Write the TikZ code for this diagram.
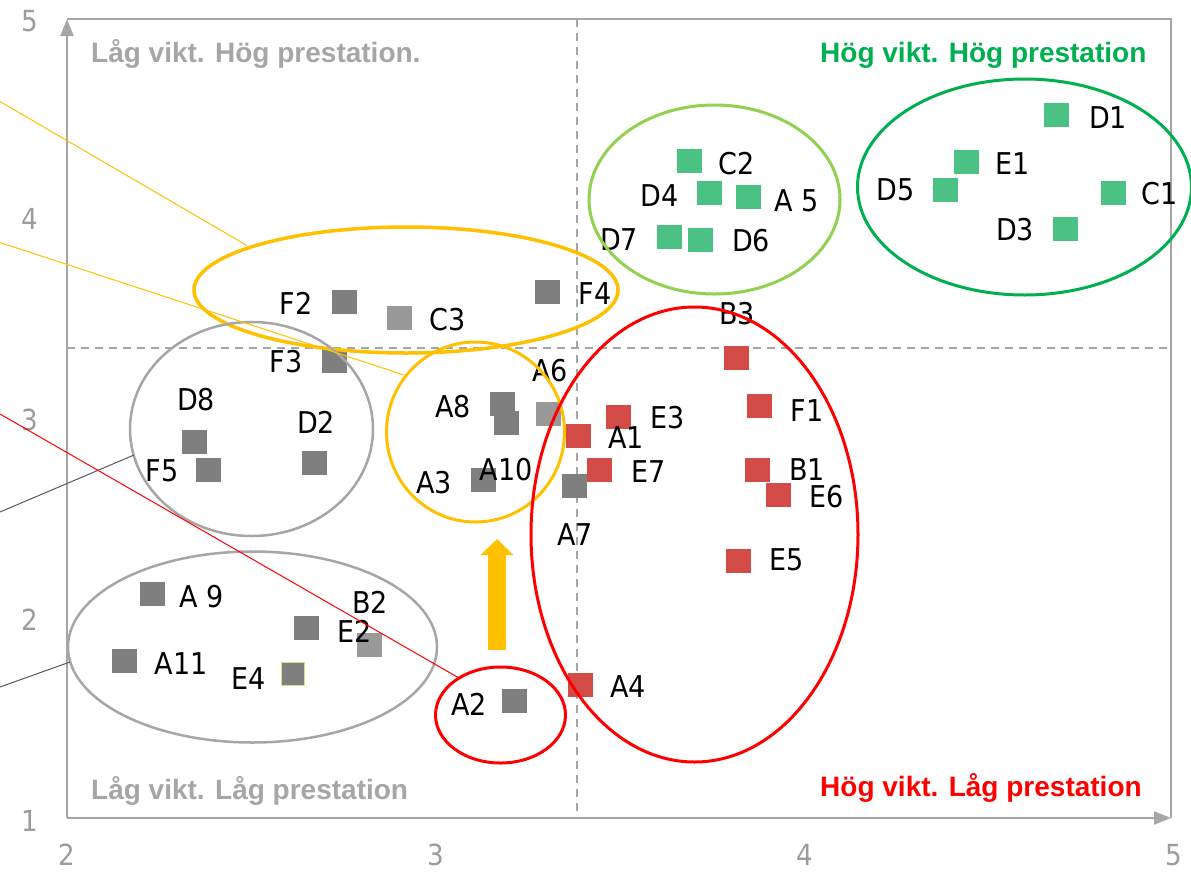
\documentclass[tikz,border=0pt]{standalone}
\usepackage{fontspec}
\usetikzlibrary{shapes.geometric,arrows.meta}
\newfontfamily\labfont[FakeStretch=0.9]{DejaVu Sans}
\newfontfamily\titfont{Liberation Sans}
\definecolor{axisgrey}{HTML}{A6A6A6}
\definecolor{tickgrey}{HTML}{9C9C9C}
\definecolor{ptgreen}{HTML}{4CC184}
\definecolor{ptdark}{HTML}{7F7F7F}
\definecolor{ptlight}{HTML}{999999}
\definecolor{ptred}{HTML}{D34B47}
\definecolor{dkgreen}{HTML}{00B050}
\definecolor{ltgreen}{HTML}{92D050}
\definecolor{amber}{HTML}{FFC000}
\definecolor{pured}{HTML}{FF0000}
\definecolor{thingrey}{HTML}{595959}
\definecolor{e4edge}{HTML}{D8E08C}
\begin{document}
\begin{tikzpicture}[x=1pt,y=-1pt,
  sq/.style={minimum width=25pt,minimum height=24pt,inner sep=0pt,draw=none},
  gsq/.style={sq,fill=ptgreen},
  dsq/.style={sq,fill=ptdark},
  lsq/.style={sq,fill=ptlight},
  rsq/.style={sq,fill=ptred},
  lab/.style={font=\labfont\fontsize{30}{30}\selectfont,inner sep=0pt,text=black},
  ticklab/.style={font=\labfont\fontsize{29}{29}\selectfont,inner sep=0pt,text=tickgrey},
  tit/.style={font=\titfont\bfseries\fontsize{28}{28}\selectfont,inner sep=0pt,anchor=base west},
  ell/.style={ellipse,draw,inner sep=0pt,outer sep=0pt},
  axisline/.style={draw=axisgrey,line width=2.2pt},
  guide/.style={draw=axisgrey,line width=1.3pt,dash pattern=on 8pt off 6pt},
  thin/.style={line width=1pt}
]
\useasboundingbox (0,0) rectangle (1191,873);
\fill[white] (0,0) rectangle (1191,873);

% frame and axes
\coordinate (O) at (67,818);
\coordinate (YT) at (67,19);
\coordinate (XR) at (1171,818);
\coordinate (TR) at (1171,19);
\draw[axisline] (YT) -- (TR) -- (XR);
\draw[axisline,-{Triangle[length=17pt,width=13pt]}] (O) -- (YT);
\draw[axisline,-{Triangle[length=17pt,width=13pt]}] (O) -- (XR);

% dashed guides
\coordinate (VT) at (577,19);
\coordinate (VB) at (577,818);
\coordinate (HL) at (67,348);
\coordinate (HR) at (1171,348);
\draw[guide] (VT) -- (VB);
\draw[guide] (HL) -- (HR);

% tick labels
\node[ticklab] (ty5) at (30,21) {5};
\node[ticklab] (ty4) at (30,219) {4};
\node[ticklab] (ty3) at (30,420) {3};
\node[ticklab] (ty2) at (30,620) {2};
\node[ticklab] (ty1) at (30,821) {1};
\node[ticklab] (tx2) at (66.5,855) {2};
\node[ticklab] (tx3) at (436,855) {3};
\node[ticklab] (tx4) at (805,855) {4};
\node[ticklab] (tx5) at (1173.5,855) {5};

% quadrant titles
\node[tit,text=axisgrey] (q1) at (91,62) {Låg vikt. Hög prestation.};
\node[tit,text=dkgreen] (q2) at (820,62) {Hög vikt. Hög prestation};
\node[tit,text=axisgrey] (q3) at (91,799) {Låg vikt. Låg prestation};
\node[tit,text=pured] (q4) at (820,796) {Hög vikt. Låg prestation};

% green points
\node[gsq] (sD1) at (1056,115) {};   \node[lab] (lD1) at (1108,118) {D1};
\node[gsq] (sE1) at (966,161.5) {};  \node[lab] (lE1) at (1012.5,164) {E1};
\node[gsq] (sD5) at (945,189.5) {};  \node[lab] (lD5) at (895.5,190) {D5};
\node[gsq] (sC1) at (1113.5,193) {}; \node[lab] (lC1) at (1160,193.5) {C1};
\node[gsq] (sD3) at (1065.5,229) {}; \node[lab] (lD3) at (1015,230) {D3};
\node[gsq] (sC2) at (689.5,161) {};  \node[lab] (lC2) at (736.5,164) {C2};
\node[gsq] (sD4) at (709.5,192.5) {};\node[lab] (lD4) at (659.5,196) {D4};
\node[gsq] (sA5) at (748.5,196.5) {};\node[lab] (lA5) at (797,201) {A 5};
\node[gsq] (sD7) at (669,237) {};    \node[lab] (lD7) at (619,239.5) {D7};
\node[gsq] (sD6) at (700.5,239.5) {};\node[lab] (lD6) at (751,240.5) {D6};

% grey points
\node[dsq] (sF2) at (344.5,302) {};  \node[lab] (lF2) at (296,303) {F2};
\node[lsq] (sC3) at (399,317.5) {};  \node[lab] (lC3) at (448,320) {C3};
\node[dsq] (sF4) at (547,292) {};    \node[lab] (lF4) at (595,294) {F4};
\node[dsq] (sF3) at (334,361) {};    \node[lab] (lF3) at (286,362) {F3};
\node[dsq] (sD8) at (194.5,442) {};  \node[lab] (lD8) at (196,400) {D8};
\node[dsq] (sF5) at (208.5,469.5) {};\node[lab] (lF5) at (162,471) {F5};
\node[dsq] (sD2) at (314,462.5) {};  \node[lab] (lD2) at (316,422) {D2};
\node[dsq] (sA8) at (502.5,403.5) {};
\node[dsq] (sA8b) at (506,422.5) {}; \node[lab] (lA8) at (453,407) {A8};
\node[lsq] (sA6) at (548,414) {};    \node[lab] (lA6) at (550,371) {A6};
\node[dsq] (sA3) at (483,479.5) {};  \node[lab] (lA3) at (434,483) {A3};
\node[lab] (lA10) at (506,470) {A10};
\node[dsq] (sA7) at (574,486) {};    \node[lab] (lA7) at (575,535) {A7};
\node[dsq] (sA9) at (152.5,594) {};  \node[lab] (lA9) at (202,596.5) {A 9};
\node[dsq] (sA11) at (124.5,661) {}; \node[lab] (lA11) at (181,664) {A11};
\node[dsq] (sE2) at (306.5,627.5) {};
\node[lsq] (sB2) at (369,644.5) {};  \node[lab] (lB2) at (370,602.5) {B2};
\node[lab] (lE2) at (354.5,631) {E2};
\node[dsq,draw=e4edge,line width=1.2pt,minimum width=23.5pt,minimum height=22.5pt] (sE4) at (293,674) {};
\node[lab] (lE4) at (249,679) {E4};
\node[dsq] (sA2) at (514.5,701) {};  \node[lab] (lA2) at (469,704) {A2};

% red points
\node[rsq] (sB3) at (736,357.5) {};  \node[lab] (lB3) at (737,314) {B3};
\node[rsq] (sF1) at (759,405.5) {};  \node[lab] (lF1) at (807,411) {F1};
\node[rsq] (sE3) at (618.5,416.5) {};\node[lab] (lE3) at (668,418) {E3};
\node[rsq] (sA1) at (578,435.5) {};  \node[lab] (lA1) at (626,438) {A1};
\node[rsq] (sE7) at (599,469.5) {};  \node[lab] (lE7) at (649,472) {E7};
\node[rsq] (sB1) at (757.5,469.5) {};
\node[rsq] (sE6) at (778.5,494.5) {};
\node[lab] (lB1) at (807,470) {B1};
\node[lab] (lE6) at (827,497) {E6};
\node[rsq] (sE5) at (738,560.5) {};  \node[lab] (lE5) at (787,560) {E5};
\node[rsq] (sA4) at (580,684.5) {};  \node[lab] (lA4) at (628,687) {A4};

% group ellipses
\node[ell,draw=dkgreen,line width=3pt,minimum width=334pt,minimum height=216pt] (gDark) at (1024.5,187) {};
\node[ell,draw=ltgreen,line width=3pt,minimum width=251pt,minimum height=189pt] (gLight) at (714.5,199.5) {};
\node[ell,draw=amber,line width=3.5pt,minimum width=424pt,minimum height=126pt] (gF) at (406,290) {};
\node[ell,draw=amber,line width=3pt,minimum width=178pt,minimum height=180pt] (gA8) at (475.5,432) {};
\node[ell,draw=axisgrey,line width=2.5pt,minimum width=243pt,minimum height=214pt] (gD8) at (251.5,429) {};
\node[ell,draw=axisgrey,line width=2.5pt,minimum width=369pt,minimum height=191pt] (gA9) at (252.5,647) {};
\node[ell,draw=pured,line width=3pt,minimum width=327pt,minimum height=455pt] (gRed) at (694.5,534.5) {};
\node[ell,draw=pured,line width=3pt,minimum width=130pt,minimum height=96pt] (gA2) at (500.5,715) {};

% leader lines
\coordinate (c1s) at (0,101.5);  \coordinate (c1e) at (247,245.5);
\coordinate (c2s) at (0,242.5);  \coordinate (c2e) at (404,375);
\coordinate (c3s) at (0,512);    \coordinate (c3e) at (134,455);
\coordinate (c4s) at (0,687);    \coordinate (c4e) at (70,662);
\coordinate (c5s) at (0,414);    \coordinate (c5e) at (459,678);
\draw[thin,amber] (c1s) -- (c1e);
\draw[thin,amber] (c2s) -- (c2e);
\draw[thin,thingrey] (c3s) -- (c3e);
\draw[thin,thingrey] (c4s) -- (c4e);
\draw[thin,pured] (c5s) -- (c5e);

% block arrow
\coordinate (arrS) at (497,650);
\coordinate (arrE) at (497,539);
\draw[amber,line width=18pt,-{Triangle[length=16pt,width=32pt]}] (arrS) -- (arrE);
\end{tikzpicture}
\end{document}
